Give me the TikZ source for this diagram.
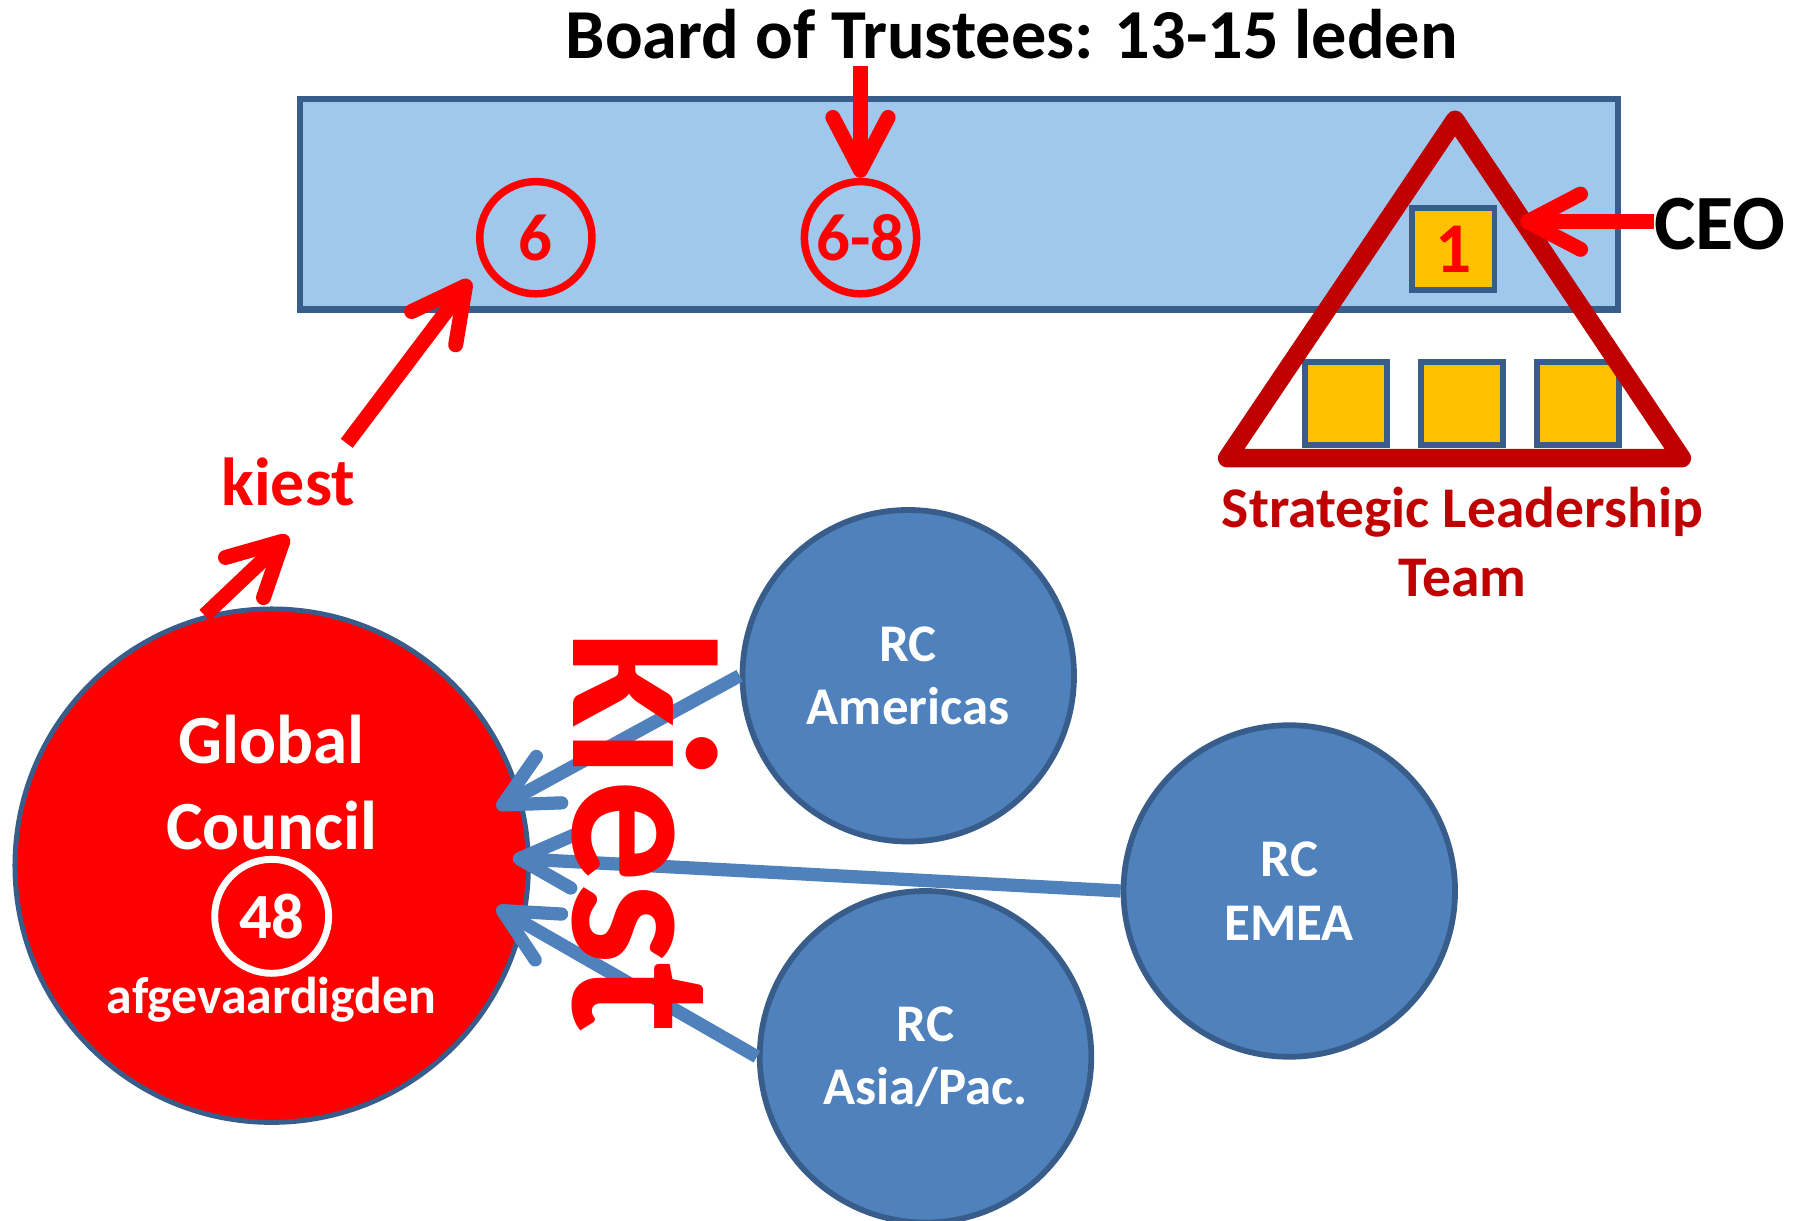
\documentclass[tikz,border=0pt]{standalone}
\usepackage{fontspec}
\setmainfont{Carlito}
\usetikzlibrary{arrows.meta}
\definecolor{rd}{HTML}{FF0000}
\definecolor{drd}{HTML}{C00000}
\definecolor{bfill}{HTML}{4F81BD}
\definecolor{bline}{HTML}{385D8A}
\definecolor{gold}{HTML}{FFC000}
\definecolor{boardfill}{RGB}{160,199,236}
\newcommand{\fsz}[1]{\fontsize{#1}{#1}\selectfont}
\begin{document}
\begin{tikzpicture}[x=1pt,y=-1pt,
  txt/.style={inner sep=0pt, outer sep=0pt},
  ring/.style={circle, draw=rd, line width=6.5pt, minimum size=97.5pt, inner sep=0pt, text=rd, font=\bfseries\fsz{58}},
  rcnode/.style={circle, draw=bline, fill=bfill, line width=5pt, minimum size=288pt, inner sep=0pt, text=white, align=center, font=\bfseries\fontsize{46}{55}\selectfont},
  sqnode/.style={draw=bline, fill=gold, line width=5.2pt, minimum size=71.5pt, inner sep=0pt},
  redarr/.style={draw=rd, line width=13pt, -{Straight Barb[length=46pt,width=48pt,round]}},
  bluearr/.style={draw=bfill, line width=11.5pt, -{Straight Barb[length=46pt,width=46pt,round]}}
]
\useasboundingbox (0,0) rectangle (1568,1060);
\fill[white] (0,0) rectangle (1568,1060);

% title
\node[txt, font=\bfseries\fsz{61}, anchor=base] (title) at (879,51) {Board of Trustees: 13-15 leden};

% board rectangle
\node[draw=bline, fill=boardfill, line width=5.5pt, minimum width=1145pt, minimum height=183pt, inner sep=0pt] (board) at (833,177.5) {};

% seats
\node[ring] (c6) at (465.5,206.5) {6};
\node[ring] (c68) at (747.5,206.5) {6-8};

% SLT squares
\node[sqnode, text=rd, font=\bfseries\fsz{62}] (s1) at (1262.5,216.5) {1};
\node[sqnode] (s2) at (1169.5,350.5) {};
\node[sqnode] (s3) at (1270,350.5) {};
\node[sqnode] (s4) at (1370.5,350.5) {};

% triangle
\coordinate (ta) at (1264,104);
\coordinate (tr) at (1461,398);
\coordinate (tl) at (1066,398);
\draw[drd, line width=16pt, line join=round] (ta) -- (tr) -- (tl) -- cycle;

\node[txt, text=drd, font=\bfseries\fsz{50}, anchor=base] (slt1) at (1270.5,458) {Strategic Leadership};
\node[txt, text=drd, font=\bfseries\fsz{50}, anchor=base] (slt2) at (1270.5,518) {Team};

% CEO
\node[txt, font=\bfseries\fsz{68}, anchor=base west] (ceo) at (1437,217) {CEO};
\coordinate (ceotip) at (1320.5,192.6);
\draw[redarr] (ceo.west |- ceotip) -- (ceotip);

% arrow from title to 6-8
\coordinate (tstart) at (747.5,57);
\draw[redarr] (tstart) -- (c68.north);

% small kiest
\node[txt, text=rd, font=\bfseries\fsz{59}, anchor=base] (kiest) at (250.5,438.7) {kiest};
\coordinate (ks1) at (301.2,385.1);
\coordinate (kt1) at (408.3,243.2);
\draw[redarr] (ks1) -- (kt1);

% Global Council
\node[circle, draw=bline, fill=rd, line width=4.3pt, minimum size=446pt, inner sep=0pt] (gc) at (236,752) {};
\node[txt, text=white, font=\bfseries\fsz{60}, anchor=base] (gl) at (236,663) {Global};
\node[txt, text=white, font=\bfseries\fsz{60}, anchor=base] (co) at (236,738) {Council};
\node[circle, draw=white, line width=6pt, minimum size=99pt, inner sep=0pt, text=white, font=\bfseries\fsz{56}] (c48) at (236,796) {48};
\node[txt, text=white, font=\bfseries\fsz{45}, anchor=base] (afg) at (236,880) {afgevaardigden};

\coordinate (kt2) at (250.5,465.6);
\draw[redarr] (gc.105) -- (kt2);

% regional councils
\node[rcnode] (am) at (789,587) {RC\\Americas};
\node[rcnode] (emea) at (1120,774) {RC\\EMEA};
\node[rcnode] (asia) at (804,918) {RC\\Asia/Pac.};

\coordinate (tam) at (431.5,702);
\coordinate (tem) at (445.4,745.7);
\coordinate (tas) at (431.5,788.2);
\draw[bluearr] (am.west) -- (tam);
\draw[bluearr] (emea.west) -- (tem);
\draw[bluearr] (asia.west) -- (tas);

% big kiest
\node[txt, text=rd, font=\bfseries\fsz{179}, rotate=-90, anchor=base] (bigk) at (498,722.5) {kiest};
\end{tikzpicture}
\end{document}
